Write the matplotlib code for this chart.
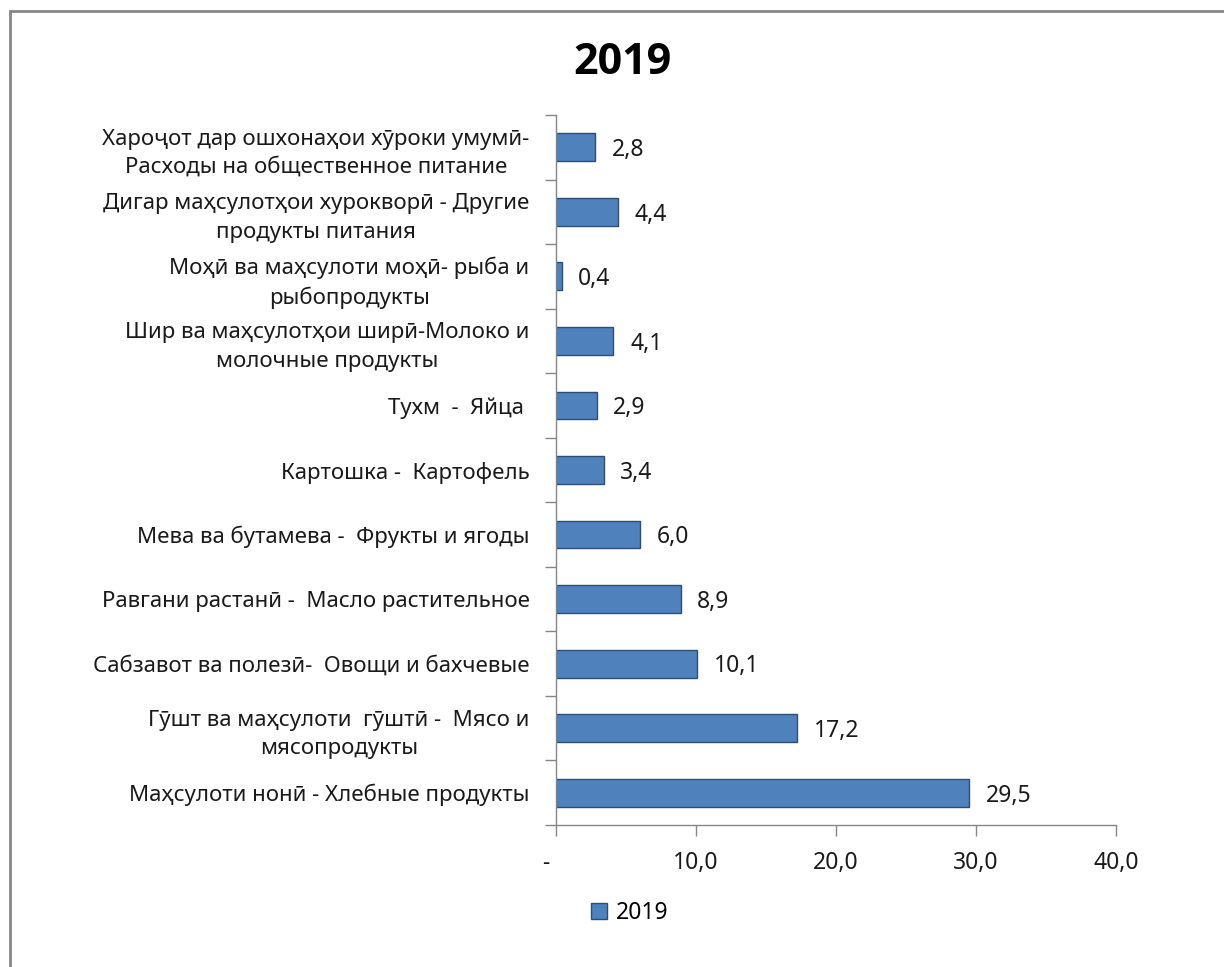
import matplotlib
matplotlib.use("Agg")
import matplotlib.pyplot as plt
import matplotlib.patches as mpatches
import numpy as np

plt.rcParams['font.family'] = ['Noto Sans', 'DejaVu Sans']

## categories bottom -> top, as drawn
categories = [
    "Маҳсулоти нонӣ - Хлебные продукты",
    "Гӯшт ва маҳсулоти  гӯштӣ -  Мясо и\nмясопродукты",
    "Сабзавот ва полезӣ-  Овощи и бахчевые",
    "Равгани растанӣ -  Масло растительное",
    "Мева ва бутамева -  Фрукты и ягоды",
    "Картошка -  Картофель",
    "Тухм  -  Яйца ",
    "Шир ва маҳсулотҳои ширӣ-Молоко и\nмолочные продукты",
    "Моҳӣ ва маҳсулоти моҳӣ- рыба и\nрыбопродукты",
    "Дигар маҳсулотҳои хурокворӣ - Другие\nпродукты питания",
    "Хароҷот дар ошхонаҳои хӯроки умумӣ-\nРасходы на общественное питание",
]
values = [29.5, 17.2, 10.1, 8.9, 6.0, 3.4, 2.9, 4.1, 0.4, 4.4, 2.8]
series_name = "2019"
xticks = [0, 10, 20, 30, 40]
xtick_labels = ["-   ", "10,0", "20,0", "30,0", "40,0"]

W, H = 1224, 967
fig = plt.figure(figsize=(W / 100, H / 100), dpi=100)
ax = fig.add_axes([556 / W, 1 - 825 / H, (1116 - 556) / W, (825 - 115) / H])

bar_color = '#4F81BD'
edge_color = '#2C4D75'
axis_gray = '#868686'
txt = '#1a1a1a'

y = np.arange(len(categories))
bars = ax.barh(y, values, height=0.43, color=bar_color, edgecolor=edge_color,
               linewidth=1.0, label=series_name)

for b, v in zip(bars, values):
    ax.annotate(f"{v:.1f}".replace('.', ','), (b.get_width(), b.get_y() + b.get_height() / 2),
                xytext=(12, -2), textcoords='offset points', ha='left', va='center',
                fontsize=16.5, color=txt)

ax.set_xlim(0, 40)
ax.set_ylim(-0.5, len(categories) - 0.5)

ax.set_xticks(xticks)
ax.set_xticklabels(xtick_labels, fontsize=16.5, color=txt)
ax.tick_params(axis='x', length=8, width=1, color=axis_gray, pad=11)

ax.set_yticks(y)
ax.set_yticklabels(categories, fontsize=16, color=txt, linespacing=1.45,
                   multialignment='center')
ax.tick_params(axis='y', which='major', length=0, pad=19)
ax.set_yticks(np.arange(-0.5, len(categories)), minor=True)
ax.tick_params(axis='y', which='minor', length=8, width=1, color=axis_gray)

for s in ['top', 'right']:
    ax.spines[s].set_visible(False)
for s in ['left', 'bottom']:
    ax.spines[s].set_color(axis_gray)
    ax.spines[s].set_linewidth(1.0)

fig.text(622 / W, 1 - 62 / H, "2019", ha='center', va='center', fontsize=31,
         fontweight='bold', family=['Open Sans', 'DejaVu Sans'], color='black')

fig.legend(handles=[mpatches.Patch(facecolor=bar_color, edgecolor=edge_color, label=series_name)],
           loc='center', bbox_to_anchor=(630 / W, 1 - 913 / H), frameon=False,
           fontsize=16.5, handlelength=0.7, handleheight=0.7, handletextpad=0.4)

## outer chart border (cut off at right/bottom)
fig.patches.append(mpatches.Rectangle((10 / W, -0.05), 1.2, 1.05 - 11 / H,
                                      transform=fig.transFigure, fill=False,
                                      edgecolor=axis_gray, linewidth=2))

fig.savefig("out.png", dpi=100)
